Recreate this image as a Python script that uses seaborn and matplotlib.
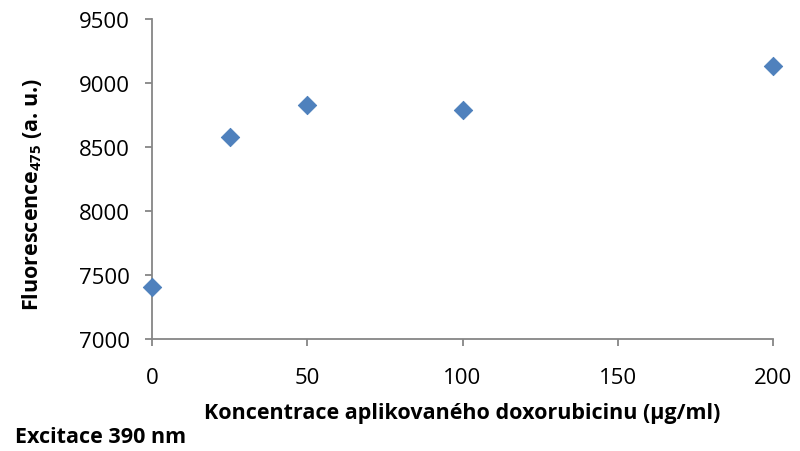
import matplotlib
matplotlib.use("Agg")
import matplotlib.pyplot as plt
import seaborn as sns
import pandas as pd

# Fluorescence at 475 nm vs. applied doxorubicin concentration
concentration = [0, 25, 50, 100, 200]
fluorescence = [7406, 8578, 8828, 8789, 9135]

x_ticks = [0, 50, 100, 150, 200]
y_ticks = [7000, 7500, 8000, 8500, 9000, 9500]

df = pd.DataFrame({"conc": concentration, "fluor": fluorescence})

sns.set_style("white")
plt.rcParams["font.family"] = ["Open Sans", "DejaVu Sans"]
plt.rcParams["text.color"] = "black"
plt.rcParams["axes.labelcolor"] = "black"
plt.rcParams["mathtext.fontset"] = "custom"
plt.rcParams["mathtext.rm"] = "Open Sans:bold"
plt.rcParams["mathtext.it"] = "Open Sans:bold"
plt.rcParams["mathtext.bf"] = "Open Sans:bold"
plt.rcParams["mathtext.default"] = "rm"

fig = plt.figure(figsize=(8, 4.52), dpi=100)
ax = fig.add_axes([152 / 800, 1 - 340 / 452, 621 / 800, 320 / 452])

sns.scatterplot(data=df, x="conc", y="fluor", ax=ax, marker="D", s=88,
                color="#4F81BD", edgecolor="#4A7EBB", linewidth=0.6,
                zorder=3, clip_on=False)

ax.set_xlim(0, 200)
ax.set_ylim(7000, 9500)
ax.set_xticks(x_ticks)
ax.set_yticks(y_ticks)
ax.set_xticklabels([str(v) for v in x_ticks])
ax.set_yticklabels([str(v) for v in y_ticks])

grey = "#868686"
for side in ("top", "right"):
    ax.spines[side].set_visible(False)
for side in ("left", "bottom"):
    ax.spines[side].set_color(grey)
    ax.spines[side].set_linewidth(1.3)

ax.tick_params(axis="both", which="major", direction="out", length=5,
               width=1.3, color=grey, labelsize=16, labelcolor="black",
               left=True, bottom=True)
ax.tick_params(axis="y", pad=11)
ax.tick_params(axis="x", pad=15)

ax.set_xlabel("Koncentrace aplikovaného doxorubicinu (µg/ml)",
              fontsize=15.5, fontweight="bold", color="black")
ax.xaxis.set_label_coords(0.5, -0.198)
ax.set_ylabel("Fluorescence$_{475}$ (a. u.)", fontsize=15.5,
              fontweight="bold", color="black")
ax.yaxis.set_label_coords(-0.174, 0.455)

fig.text(15 / 800, 1 - 438 / 452, "Excitace 390 nm", fontsize=15.5,
         fontweight="bold", va="center", ha="left", color="black")

fig.savefig("out.png", dpi=100, facecolor="white")
